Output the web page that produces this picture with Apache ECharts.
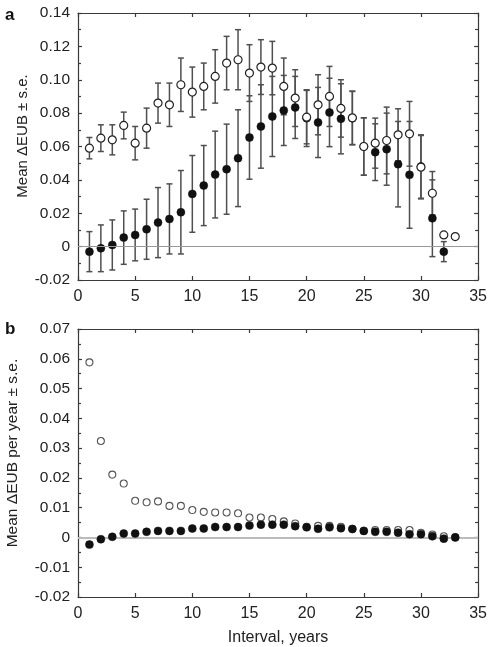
<!DOCTYPE html>
<html>
<head>
<meta charset="utf-8">
<script src="https://cdn.jsdelivr.net/npm/echarts@6/dist/echarts.min.js"></script>
<style>html,body{margin:0;padding:0;background:#fff;}#c{width:490px;height:647px;}</style>
</head>
<body>
<div id="c"></div>
<script>
const years = [1,2,3,4,5,6,7,8,9,10,11,12,13,14,15,16,17,18,19,20,21,22,23,24,25,26,27,28,29,30,31,32,33];
const openMeanA = [0.059,0.065,0.064,0.0726,0.062,0.071,0.086,0.085,0.097,0.0926,0.096,0.102,0.110,0.112,0.104,0.1076,0.107,0.096,0.089,0.0776,0.085,0.090,0.0828,0.0772,0.060,0.062,0.0636,0.067,0.0676,0.0476,0.032,0.007,0.006];
const openErrA = [0.0064,0.008,0.009,0.008,0.010,0.012,0.012,0.013,0.016,0.015,0.014,0.016,0.016,0.018,0.017,0.0164,0.016,0.017,0.017,0.016,0.018,0.018,0.0172,0.016,0.0172,0.015,0.020,0.0156,0.0194,0.019,0.013,0.001,null];
const filledMeanA = [-0.003,-0.001,0.001,0.0054,0.007,0.0104,0.0144,0.0166,0.0206,0.0316,0.0366,0.0432,0.0464,0.053,0.0654,0.072,0.078,0.0816,0.0834,0.077,0.0744,0.0804,0.0766,0.077,0.060,0.0566,0.0584,0.0494,0.043,0.048,0.017,-0.003,null];
const filledErrA = [0.012,0.014,0.015,0.016,0.0155,0.018,0.021,0.021,0.025,0.023,0.024,0.026,0.027,0.029,0.025,0.025,0.024,0.021,0.0186,0.017,0.021,0.0205,0.021,0.016,0.0172,0.017,0.0216,0.0256,0.032,0.019,0.023,0.006,null];
const openB = [0.0588,0.0324,0.0211,0.0181,0.0123,0.0118,0.0121,0.0106,0.0106,0.0092,0.0086,0.0084,0.0084,0.0081,0.0067,0.0067,0.0062,0.0054,0.0047,0.0036,0.0039,0.0039,0.0036,0.0029,0.0022,0.0025,0.0025,0.0025,0.0025,0.0016,0.001,0.0004,0.0001];
const filledB = [-0.0024,-0.0006,0.0002,0.0013,0.0013,0.0019,0.0022,0.0022,0.0022,0.003,0.003,0.0035,0.0035,0.0035,0.004,0.0043,0.0043,0.0043,0.0038,0.0034,0.0029,0.0034,0.0031,0.0028,0.0022,0.0019,0.0019,0.0016,0.0011,0.0011,0.0004,-0.0004,0.0];
const xTitle = 'Interval, years';
const yTitleA = 'Mean ΔEUB ± s.e.';
const yTitleB = 'Mean ΔEUB per year ± s.e.';

const FONT = 'Liberation Sans, Arial, Helvetica, sans-serif';
const chart = echarts.init(document.getElementById('c'), null, {renderer:'canvas'});

function pts(means){ return years.map((x,i)=> means[i]==null ? null : [x, means[i]]).filter(d=>d); }
function errs(means, es){ return years.map((x,i)=> (means[i]==null||es[i]==null) ? null : [x, means[i], es[i]]).filter(d=>d); }

function errRender(params, api){
  const x = api.value(0), m = api.value(1), e = api.value(2);
  const t = api.coord([x, m + e]), b = api.coord([x, m - e]);
  const w = 3;
  const st = {stroke:'#4f4f4f', lineWidth:1.5};
  return {type:'group', children:[
    {type:'line', shape:{x1:t[0], y1:t[1], x2:b[0], y2:b[1]}, style:st},
    {type:'line', shape:{x1:t[0]-w, y1:t[1], x2:t[0]+w, y2:t[1]}, style:st},
    {type:'line', shape:{x1:b[0]-w, y1:b[1], x2:b[0]+w, y2:b[1]}, style:st}
  ]};
}

const yFmt = v => Math.abs(v) < 1e-9 ? '0' : v.toFixed(2);
const axisLineStyle = {color:'#3a3a3a', width:1.2};
const labelStyle = {color:'#222', fontSize:15.5, fontFamily:FONT};

function xAxes(gi, withName){
  return [
    {gridIndex:gi, type:'value', min:0, max:35, interval:5, position:'bottom',
     axisLine:{lineStyle:axisLineStyle, onZero:false}, axisTick:{inside:true, length:4, lineStyle:axisLineStyle},
     axisLabel:Object.assign({margin:9, formatter: v=>String(v)}, labelStyle, {fontSize:16}), splitLine:{show:false},
     name: withName ? xTitle : '', nameLocation:'middle', nameGap:33, nameTextStyle:{color:'#222', fontSize:16, fontFamily:FONT}},
    {gridIndex:gi, type:'value', min:0, max:35, interval:5, position:'top',
     axisLine:{lineStyle:axisLineStyle, onZero:false}, axisTick:{inside:true, length:4, lineStyle:axisLineStyle},
     axisLabel:{show:false}, splitLine:{show:false}}
  ];
}
function yAxes(gi, min, max, interval){
  return [
    {gridIndex:gi, type:'value', min:min, max:max, interval:interval, position:'left',
     axisLine:{show:true, lineStyle:axisLineStyle, onZero:false}, axisTick:{show:true, inside:true, length:4, lineStyle:axisLineStyle},
     minorTick:{show:true, splitNumber:2, length:3, lineStyle:axisLineStyle},
     axisLabel:Object.assign({margin:8, formatter:yFmt}, labelStyle), splitLine:{show:false}},
    {gridIndex:gi, type:'value', min:min, max:max, interval:interval, position:'right',
     axisLine:{show:true, lineStyle:axisLineStyle, onZero:false}, axisTick:{show:true, inside:true, length:4, lineStyle:axisLineStyle},
     minorTick:{show:true, splitNumber:2, length:3, lineStyle:axisLineStyle},
     axisLabel:{show:false}, splitLine:{show:false}}
  ];
}

const option = {
  animation:false,
  backgroundColor:'#fff',
  title:[
    {text:'a', left:0, top:2, textStyle:{fontSize:17, fontWeight:'bold', color:'#111', fontFamily:FONT}},
    {text:'b', left:0, top:316, textStyle:{fontSize:17, fontWeight:'bold', color:'#111', fontFamily:FONT}}
  ],
  graphic:[
    {type:'text', x:23, y:136, rotation:Math.PI/2, silent:true,
     style:{text:yTitleA, fill:'#222', font:'15px ' + FONT, textAlign:'center', textVerticalAlign:'middle'}},
    {type:'text', x:13, y:453, rotation:Math.PI/2, silent:true,
     style:{text:yTitleB, fill:'#222', font:'15.5px ' + FONT, textAlign:'center', textVerticalAlign:'middle'}}
  ],
  grid:[
    {left:78, right:10, top:13, height:267},
    {left:78, right:10, top:329, height:268}
  ],
  xAxis:[...xAxes(0,false), ...xAxes(1,true)],
  yAxis:[...yAxes(0,-0.02,0.14,0.02), ...yAxes(1,-0.02,0.07,0.01)],
  series:[
    {type:'line', xAxisIndex:0, yAxisIndex:0, data:[], silent:true,
     markLine:{silent:true, symbol:'none', label:{show:false}, lineStyle:{color:'#999', width:1, type:'solid'}, data:[{yAxis:0}]}},
    {type:'line', xAxisIndex:2, yAxisIndex:2, data:[], silent:true,
     markLine:{silent:true, symbol:'none', label:{show:false}, lineStyle:{color:'#bbb', width:2, type:'solid'}, data:[{yAxis:0}]}},
    {type:'custom', xAxisIndex:0, yAxisIndex:0, renderItem:errRender, data:errs(filledMeanA, filledErrA), encode:{x:0, y:1}, z:3},
    {type:'custom', xAxisIndex:0, yAxisIndex:0, renderItem:errRender, data:errs(openMeanA, openErrA), encode:{x:0, y:1}, z:3},
    {type:'scatter', xAxisIndex:0, yAxisIndex:0, data:pts(filledMeanA), symbol:'circle', symbolSize:8,
     itemStyle:{color:'#111', borderColor:'#111', borderWidth:0.5, opacity:1}, z:4},
    {type:'scatter', xAxisIndex:0, yAxisIndex:0, data:pts(openMeanA), symbol:'circle', symbolSize:8,
     itemStyle:{color:'#fff', borderColor:'#222', borderWidth:1.2, opacity:1}, z:5},
    {type:'scatter', xAxisIndex:2, yAxisIndex:2, data:pts(openB), symbol:'circle', symbolSize:7,
     itemStyle:{color:'#fff', borderColor:'#555', borderWidth:1.1, opacity:1}, z:4},
    {type:'scatter', xAxisIndex:2, yAxisIndex:2, data:pts(filledB), symbol:'circle', symbolSize:8,
     itemStyle:{color:'#111', borderColor:'#111', borderWidth:0.5, opacity:1}, z:5}
  ]
};
chart.setOption(option);
</script>
</body>
</html>
